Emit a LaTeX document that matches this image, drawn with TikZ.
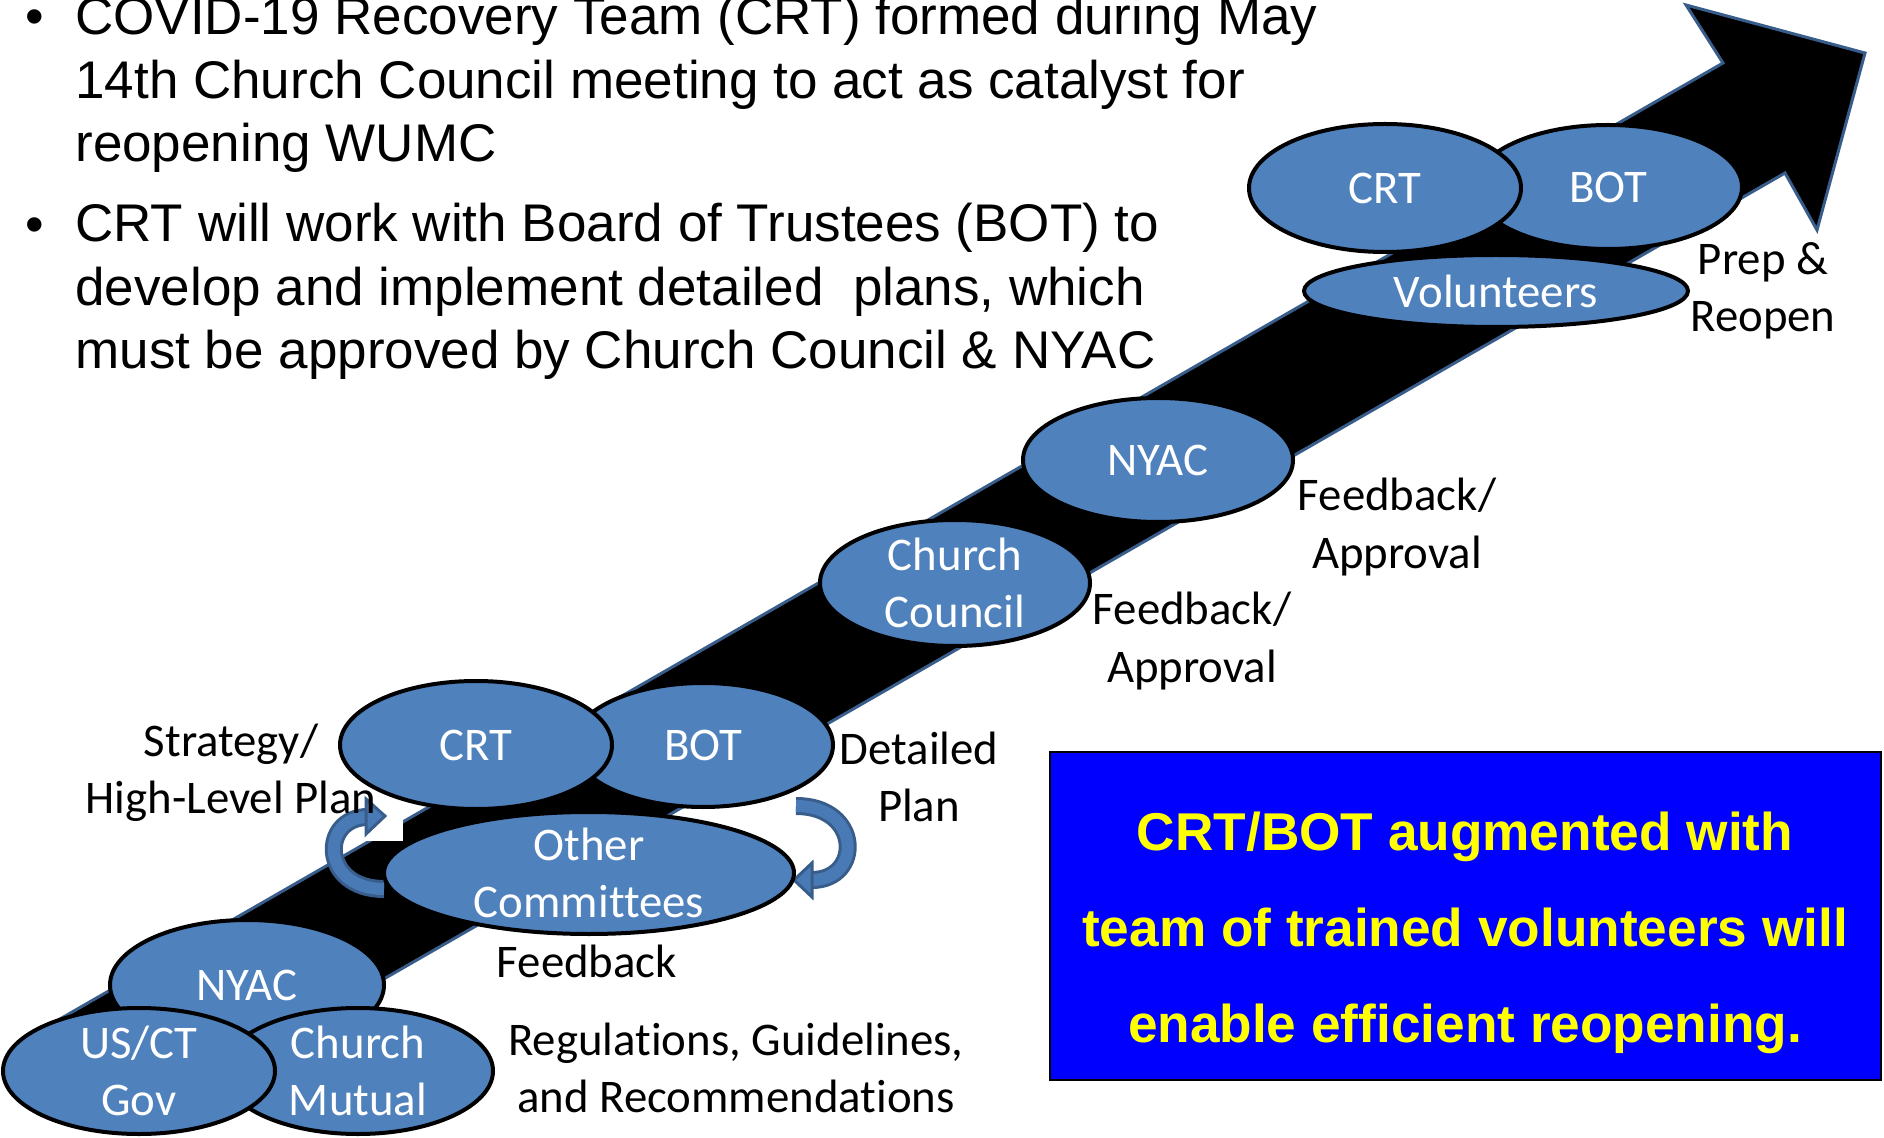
\documentclass[tikz,border=0pt]{standalone}
\usepackage{fontspec}
\setmainfont{Carlito}[Ligatures={NoCommon}]
\newfontfamily\arialfont{Liberation Sans}[Ligatures={NoCommon}]
\usetikzlibrary{shapes.geometric}
\definecolor{ellfill}{RGB}{79,129,189}
\definecolor{arrowedge}{RGB}{56,93,138}
\definecolor{curvefill}{RGB}{74,122,181}
\definecolor{boxblue}{RGB}{0,0,255}
\definecolor{boxyellow}{RGB}{255,255,0}
\begin{document}
\begin{tikzpicture}[x=0.5pt,y=-0.5pt,
  ell/.style={ellipse, draw=black, line width=2pt, fill=ellfill, inner sep=0pt},
  esize/.style 2 args={minimum width=#1pt, minimum height=#2pt},
  etext/.style={text=white, font=\fontsize{23.4}{28.5}\selectfont, align=center, inner sep=0pt},
  lbl/.style={font=\fontsize{23.4}{28.5}\selectfont, align=center, inner sep=0pt, anchor=base},
  bullettext/.style={font=\arialfont\fontsize{26.5}{31.75}\selectfont, align=left, inner sep=0pt, anchor=base west},
  bigarrow/.style={line width=1.5pt, draw=arrowedge, fill=black, line join=miter},
  curveout/.style={line width=9pt, draw=arrowedge},
  curvein/.style={line width=6pt, draw=curvefill},
  curvehead/.style={line width=1.5pt, draw=arrowedge, fill=curvefill, line join=miter},
  note/.style={draw=black, line width=0.75pt, fill=boxblue, inner sep=0pt},
  notetext/.style={text=boxyellow, font=\arialfont\bfseries\fontsize{26.6}{48}\selectfont, align=center, inner sep=0pt, anchor=base}
]
\useasboundingbox (0,0) rectangle (1884,1138);

% big arrow
\draw[bigarrow] (60,1019) -- (1723,63) -- (1686,5) -- (1865,53) -- (1817,230) -- (1785,173) -- (123,1129) -- cycle;

% white patch
\fill[white] (362,813) rectangle (403,841);

% bullet texts (anchor at baseline of last line)
\node[bullettext] (dot1) at (25,35) {•};
\node[bullettext] (bul1) at (75,162) {COVID-19 Recovery Team (CRT) formed during May\\14th Church Council meeting to act as catalyst for\\reopening WUMC};
\node[bullettext] (dot2) at (25,243) {•};
\node[bullettext] (bul2) at (75,369) {CRT will work with Board of Trustees (BOT) to\\develop and implement detailed\ \ plans, which\\must be approved by Church Council \& NYAC};

% top group
\node[ell, esize={134}{62}, label={[etext]center:BOT}] (botT) at (1608,187) {};
\node[ell, esize={136}{64}, label={[etext]center:CRT}] (crtT) at (1385,188) {};
\node[ell, esize={192}{36}, label={[etext]center:Volunteers}] (vol) at (1496,291) {};

% middle
\node[ell, esize={135}{62}, label={[etext]center:NYAC}] (nyacM) at (1158,460) {};
\node[ell, esize={135}{63}, label={[etext]center:Church\\Council}] (cc) at (955,583) {};

% curved arrows
\coordinate (lcs) at (384,889);
\coordinate (lce) at (368,817);
\draw[curveout] (lcs) .. controls (320,889) and (320,817) .. (lce);
\draw[curvein] (lcs) .. controls (320,889) and (320,817) .. (lce);
\draw[curvehead] (366,799) -- (385,816) -- (366,834) -- cycle;
\coordinate (rcs) at (796,806);
\coordinate (rce) at (812,880);
\draw[curveout] (rcs) .. controls (862,806) and (862,880) .. (rce);
\draw[curvein] (rcs) .. controls (862,806) and (862,880) .. (rce);
\draw[curvehead] (812,863) -- (794,880) -- (812,897) -- cycle;

% lower group
\node[ell, esize={130}{62}, label={[etext]center:BOT}] (botL) at (703,745) {};
\node[ell, esize={136}{64}, label={[etext]center:CRT}] (crtL) at (476,745) {};
\node[ell, esize={205}{61}, label={[etext]center:Other\\Committees}] (other) at (589,873) {};

% bottom group
\node[ell, esize={137}{65}, label={[etext]center:NYAC}] (nyacB) at (247,985) {};
\node[ell, esize={135}{63}, label={[etext]center:Church\\Mutual}] (mutual) at (358,1071) {};
\node[ell, esize={136}{63}, label={[etext]center:US/CT\\Gov}] (usct) at (139,1071) {};

% labels (anchor at baseline of last line)
\node[lbl] (strat) at (231,813) {Strategy/\\High-Level Plan};
\node[lbl] (detail) at (919,821) {Detailed\\Plan};
\node[lbl] (fb) at (587,977) {Feedback};
\node[lbl] (regs) at (736,1112) {Regulations, Guidelines,\\and Recommendations};
\node[lbl] (fa1) at (1192,682) {Feedback/\\Approval};
\node[lbl] (fa2) at (1397,568) {Feedback/\\Approval};
\node[lbl] (prep) at (1763,332) {Prep \&\\Reopen};

% note box
\node[note, minimum width=415.5pt, minimum height=164pt] (notebox) at (1465.5,916) {};
\node[notetext] (note) at (1465,1042) {CRT/BOT augmented with\\team of trained volunteers will\\enable efficient reopening.};
\end{tikzpicture}
\end{document}
